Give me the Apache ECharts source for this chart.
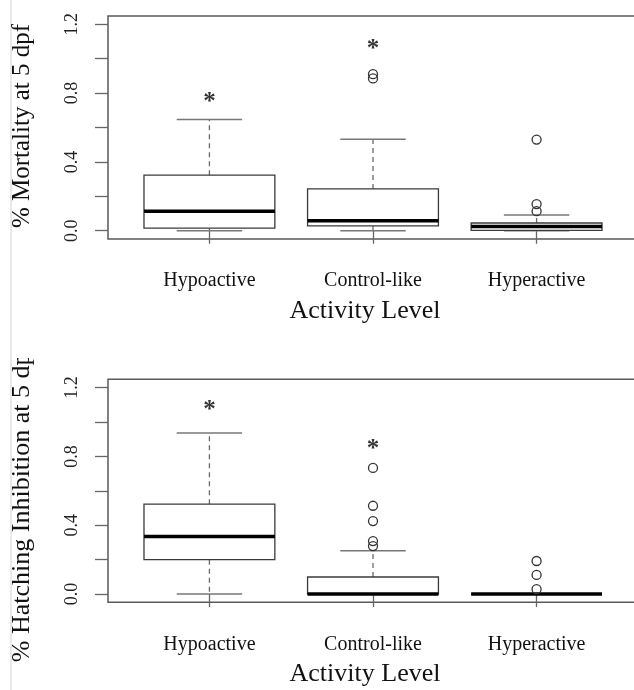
<!DOCTYPE html>
<html>
<head>
<meta charset="utf-8">
<script src="https://cdn.jsdelivr.net/npm/echarts@6/dist/echarts.min.js"></script>
<style>
  html, body { margin: 0; padding: 0; background: #fff; }
  #top, #bottom { position: absolute; left: 0; width: 634px; }
  #top { top: 0; height: 358px; }
  #bottom { top: 358px; height: 332px; }
</style>
</head>
<body>
<div id="top"></div>
<div id="bottom"></div>
<script>
// Activity groups along the x axis
const categories = ['Hypoactive', 'Control-like', 'Hyperactive'];
const yTickValues = [0, 0.2, 0.4, 0.6, 0.8, 1.0, 1.2];
const yLabelValues = [0, 0.4, 0.8, 1.2];

// Box statistics per group: [lower whisker, Q1, median, Q3, upper whisker]
const mortalityStats = [
  [0, 0.015, 0.113, 0.323, 0.646],
  [0, 0.028, 0.058, 0.243, 0.532],
  [0, 0.002, 0.024, 0.045, 0.091]
];
const mortalityOutliers = [[], [0.885, 0.91], [0.114, 0.155, 0.53]];
const mortalityStars = [0.78, 1.087, null];

const hatchingStats = [
  [0, 0.2, 0.335, 0.522, 0.936],
  [0, 0, 0, 0.099, 0.252],
  [0, 0, 0, 0, 0]
];
const hatchingOutliers = [[], [0.279, 0.308, 0.424, 0.513, 0.733], [0.028, 0.111, 0.192]];
const hatchingStars = [1.10, 0.874, null];

const SERIF = '"Liberation Serif", "DejaVu Serif", serif';

function boxRender(params, api) {
  const x = api.value(0);
  const lo = api.value(1), q1 = api.value(2), med = api.value(3), q3 = api.value(4), hi = api.value(5);
  const hw = 0.4, cw = 0.2;
  const tl = api.coord([x - hw, q3]);
  const br = api.coord([x + hw, q1]);
  const pLo = api.coord([x, lo]), pQ1 = api.coord([x, q1]);
  const pQ3 = api.coord([x, q3]), pHi = api.coord([x, hi]);
  const capL = api.coord([x - cw, 0])[0], capR = api.coord([x + cw, 0])[0];
  const mL = api.coord([x - hw, med]), mR = api.coord([x + hw, med]);
  const whisk = { stroke: '#6a6a6a', lineWidth: 1.3, lineDash: [5, 4] };
  const cap = { stroke: '#777', lineWidth: 1.5 };
  return {
    type: 'group',
    children: [
      { type: 'line', shape: { x1: pQ3[0], y1: pQ3[1], x2: pHi[0], y2: pHi[1] }, style: whisk },
      { type: 'line', shape: { x1: pQ1[0], y1: pQ1[1], x2: pLo[0], y2: pLo[1] }, style: whisk },
      { type: 'line', shape: { x1: capL, y1: pHi[1], x2: capR, y2: pHi[1] }, style: cap },
      { type: 'line', shape: { x1: capL, y1: pLo[1], x2: capR, y2: pLo[1] }, style: cap },
      { type: 'rect', shape: { x: tl[0], y: tl[1], width: br[0] - tl[0], height: br[1] - tl[1] },
        style: { fill: 'rgba(255,255,255,0)', stroke: '#3a3a3a', lineWidth: 1.3 } },
      { type: 'line', shape: { x1: mL[0], y1: mL[1], x2: mR[0], y2: mR[1] },
        style: { stroke: '#000', lineWidth: 3.5 } }
    ]
  };
}

function buildOption(cfg) {
  const boxData = cfg.stats.map((s, i) => [i + 1].concat(s));
  const outlierData = [];
  cfg.outliers.forEach((list, i) => list.forEach(v => outlierData.push([i + 1, v])));
  const starData = [];
  cfg.stars.forEach((v, i) => { if (v !== null) starData.push([i + 1, v]); });

  return {
    animation: false,
    backgroundColor: '#fff',
    graphic: [
      {
        type: 'line', shape: { x1: 11, y1: 0, x2: 11, y2: 700 },
        style: { stroke: '#d4d4d4', lineWidth: 1 }, silent: true
      },
      {
        // vertical axis title, rotated to read bottom-to-top
        type: 'text', x: 22, y: cfg.yNameCenter, rotation: Math.PI / 2, silent: true,
        style: { text: cfg.yName, fontFamily: SERIF, fontSize: cfg.yNameSize, fill: '#111',
          align: 'center', verticalAlign: 'middle' }
      }
    ],
    grid: {
      left: 108, top: cfg.gridTop, width: 530, height: 223,
      containLabel: false, outerBoundsMode: 'none',
      show: true, borderColor: '#5a5a5a', borderWidth: 1.5, backgroundColor: 'transparent'
    },
    xAxis: {
      type: 'value', min: 0.38, max: 3.62,
      axisLine: { show: false },
      splitLine: { show: false },
      axisTick: { show: true, length: 13, customValues: [1, 2, 3],
        lineStyle: { color: '#666', width: 1.3 } },
      axisLabel: { show: true, customValues: [1, 2, 3], margin: 32,
        formatter: v => categories[Math.round(v) - 1] || '',
        fontFamily: SERIF, fontSize: 20, color: '#111' },
      name: 'Activity Level', nameLocation: 'middle', nameGap: 59,
      nameTextStyle: { fontFamily: SERIF, fontSize: 26, color: '#111', padding: [0, 16, 0, 0] }
    },
    yAxis: {
      type: 'value', min: -0.048, max: 1.248,
      axisLine: { show: false },
      splitLine: { show: false },
      axisTick: { show: true, length: 13, customValues: yTickValues,
        lineStyle: { color: '#666', width: 1.3 } },
      axisLabel: { show: true, customValues: yLabelValues, rotate: 90, margin: 27,
        formatter: v => v.toFixed(1),
        fontFamily: SERIF, fontSize: 18, color: '#222' }
    },
    series: [
      {
        type: 'custom', renderItem: boxRender, data: boxData,
        encode: { x: 0, y: [1, 2, 3, 4, 5] }, z: 2
      },
      {
        type: 'scatter', data: outlierData, symbol: 'circle', symbolSize: 9, z: 3,
        itemStyle: { color: 'rgba(255,255,255,0)', borderColor: '#333', borderWidth: 1.3, opacity: 1 }
      },
      {
        type: 'scatter', data: starData, symbol: 'circle', symbolSize: 1, z: 3,
        itemStyle: { color: 'rgba(0,0,0,0)' },
        label: { show: true, formatter: '*', position: 'inside', offset: [0, 6],
          fontFamily: SERIF, fontSize: 25, fontWeight: 'bold', color: '#000' }
      }
    ]
  };
}

const topChart = echarts.init(document.getElementById('top'), null, { renderer: 'canvas' });
topChart.setOption(buildOption({
  gridTop: 16, yName: '% Mortality at 5 dpf', yNameCenter: 126, yNameSize: 25,
  stats: mortalityStats, outliers: mortalityOutliers, stars: mortalityStars
}));

const bottomChart = echarts.init(document.getElementById('bottom'), null, { renderer: 'canvas' });
bottomChart.setOption(buildOption({
  gridTop: 21.3, yName: '% Hatching Inhibition at 5 dpf', yNameCenter: 145, yNameSize: 26,
  stats: hatchingStats, outliers: hatchingOutliers, stars: hatchingStars
}));
</script>
</body>
</html>
